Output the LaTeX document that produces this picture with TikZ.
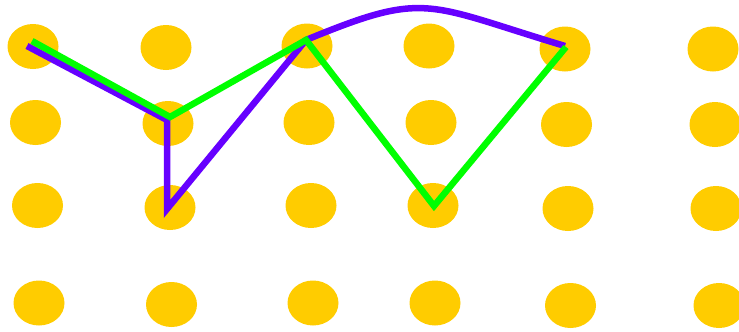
\documentclass[tikz,border=0pt]{standalone}
\usepackage{xcolor}
\usepackage{tikz}
\usetikzlibrary{shapes.geometric}

\definecolor{dotyellow}{HTML}{FFCC00}
\definecolor{pathpurple}{HTML}{6600FF}
\definecolor{pathgreen}{HTML}{00FF00}

\tikzset{
  gridDot/.style={ellipse, fill=dotyellow, draw=none, inner sep=0pt,
    minimum width=51pt, minimum height=45pt},
  purpleRoute/.style={draw=pathpurple, line width=6.5pt, line join=miter},
  greenRoute/.style={draw=pathgreen, line width=6.5pt, line join=miter}
}

\begin{document}
\begin{tikzpicture}[x=1pt, y=-1pt]
  \useasboundingbox (0,0) rectangle (739,332);

  % Grid of dots
  \foreach \name/\px/\py in {
      d11/33/46.5, d12/166/47.5, d13/307/46, d14/429/46, d15/565/49, d16/713/49,
      d21/35.5/122.5, d22/168/123.5, d23/309/122.5, d24/431/122.5, d25/566.5/124.5, d26/715/124.5,
      d31/37.5/205.5, d32/170/207.5, d33/311/205.5, d34/433/205.5, d35/568/208.5, d36/716/208.5,
      d41/39/303, d42/171.5/304.5, d43/313/303, d44/435/303, d45/570.5/305.5, d46/719/305.5}
    \node[gridDot] (\name) at (\px,\py) {};

  % Purple route
  \coordinate (p1) at (27,46);
  \coordinate (p2) at (167,120);
  \coordinate (p3) at (167,209);
  \coordinate (p4) at (306,40);
  \coordinate (p5) at (565,46);
  \draw[purpleRoute] (p1) -- (p2) -- (p3) -- (p4)
    .. controls (427,-10) and (425,4) .. (p5);

  % Green route
  \coordinate (g1) at (32,41);
  \coordinate (g2) at (170,117);
  \coordinate (g3) at (306,40);
  \coordinate (g4) at (434,206);
  \coordinate (g5) at (566,47);
  \draw[greenRoute] (g1) -- (g2) -- (g3) -- (g4) -- (g5);
\end{tikzpicture}
\end{document}
